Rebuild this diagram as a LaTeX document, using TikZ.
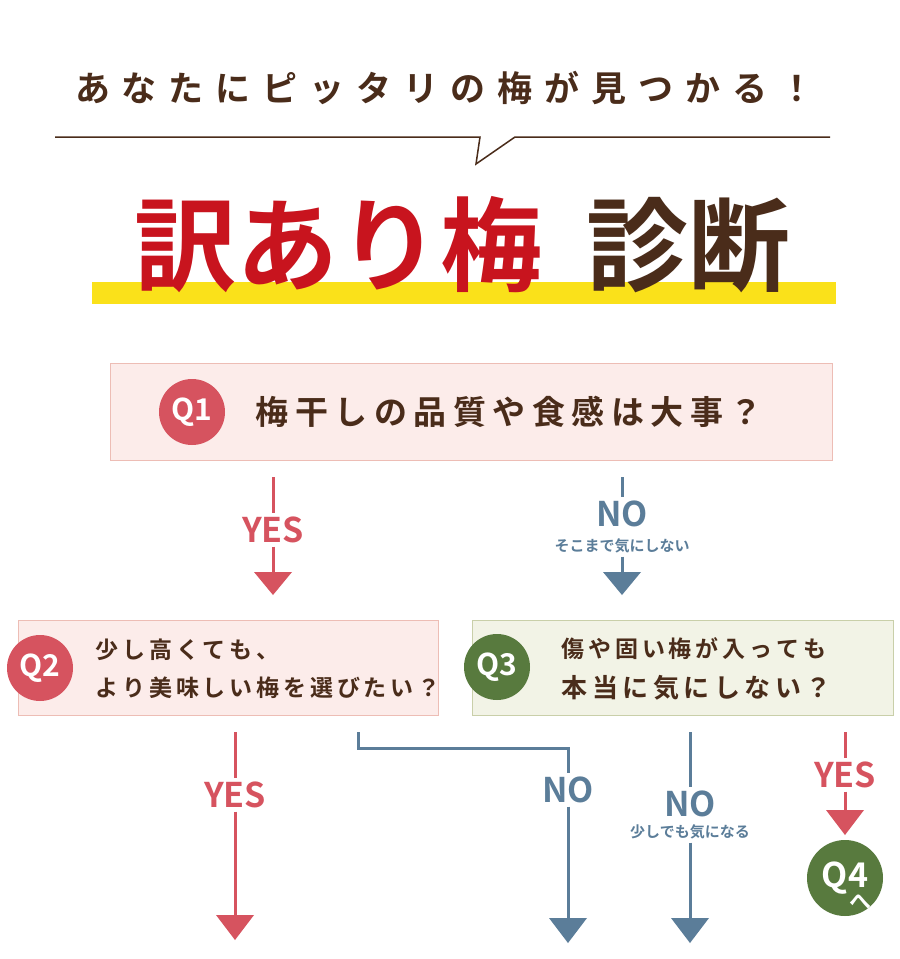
\documentclass[tikz,border=0pt]{standalone}
\usepackage{fontspec}
\setmainfont{Noto Sans CJK JP}
\newfontfamily\jpb{Noto Sans CJK JP Bold}
\newcommand\myls{\hspace{12pt}}
\newcommand\myqs{\hspace{6.5pt}}
\begin{document}
\definecolor{brn}{HTML}{4A2C1A}
\definecolor{bigred}{HTML}{C8141E}
\definecolor{pr}{HTML}{D6535F}
\definecolor{bl}{HTML}{5B7D99}
\definecolor{gr}{HTML}{587A3E}
\definecolor{pinkbg}{HTML}{FCECEA}
\definecolor{pinkbd}{HTML}{EDBDB5}
\definecolor{grbg}{HTML}{F2F3E6}
\definecolor{grbd}{HTML}{C9CFA9}
\definecolor{yel}{HTML}{FAE11A}
\begin{tikzpicture}[x=1pt,y=-1pt,
  qc/.style={circle,minimum size=66pt,inner sep=0pt,text=white,font=\jpb\fontsize{30}{30}\selectfont},
  qt/.style={anchor=west,text=brn,font=\jpb\fontsize{23}{23}\selectfont},
  lab/.style={font=\jpb\fontsize{34}{34}\selectfont},
  sub/.style={font=\jpb\fontsize{15}{15}\selectfont,text=bl},
  ln/.style={line width=3pt}]
\useasboundingbox (0,0) rectangle (900,959);
\fill[white] (0,0) rectangle (900,959);
% header
\node[text=brn,font=\jpb\fontsize{35}{35}\selectfont] (head) at (445,88) {あ\myls な\myls た\myls に\myls ピ\myls ッ\myls タ\myls リ\myls の\myls 梅\myls が\myls 見\myls つ\myls か\myls る\myls ！};
\coordinate (sl) at (55,137); \coordinate (sr) at (830,137);
\draw[brn,line width=1.5pt] (sl) -- (480,137) -- (476,164) -- (515,137) -- (sr);
\fill[yel] (92,282) rectangle (836,304);
\node[text=bigred,font=\jpb\fontsize{102}{102}\selectfont,anchor=base] (t1) at (338,283) {訳あり梅};
\node[text=brn,font=\jpb\fontsize{102}{102}\selectfont,anchor=base] (t2) at (688,283) {診断};
% Q1
\node[draw=pinkbd,fill=pinkbg,line width=1pt,minimum width=722pt,minimum height=97pt,inner sep=0pt] (q1box) at (471,411.5) {};
\node[qc,fill=pr] (q1) at (192,412) {Q1};
\node[qt,font=\jpb\fontsize{33}{33}\selectfont] (q1t) at (252,412) {梅\myqs 干\myqs し\myqs の\myqs 品\myqs 質\myqs や\myqs 食\myqs 感\myqs は\myqs 大\myqs 事\myqs ？};
% Q1 YES
\node[lab,text=pr] (y1) at (273,530) {YES};
\coordinate (y1a) at (273,477);
\draw[ln,pr] (y1a) -- (y1.north);
\coordinate (y1b) at (273,573);
\draw[ln,pr] (y1.south) -- (y1b);
\fill[pr] (254,572) -- (292,572) -- (273,595) -- cycle;
% Q1 NO
\node[lab,text=bl] (n1) at (622,514) {NO};
\node[sub] (n1s) at (622,546) {そこまで気にしない};
\coordinate (n1a) at (622,477);
\draw[ln,bl] (n1a) -- (n1.north);
\coordinate (n1b) at (622,573);
\draw[ln,bl] (n1s.south) -- (n1b);
\fill[bl] (603,572) -- (641,572) -- (622,595) -- cycle;
% Q2
\node[draw=pinkbd,fill=pinkbg,line width=1pt,minimum width=420pt,minimum height=95pt,inner sep=0pt] (q2box) at (228,667.5) {};
\node[qc,fill=pr] (q2) at (40,668) {Q2};
\node[qt] (q2a) at (92,650) {少\,し\,高\,く\,て\,も\,、};
\node[qt] (q2b) at (92,688) {よ\,り\,美\,味\,し\,い\,梅\,を\,選\,び\,た\,い\,？};
% Q3
\node[draw=grbd,fill=grbg,line width=1pt,minimum width=421pt,minimum height=95pt,inner sep=0pt] (q3box) at (682.5,667.5) {};
\node[qc,fill=gr] (q3) at (497,667) {Q3};
\node[qt] (q3a) at (558,649) {傷\,や\,固\,い\,梅\,が\,入\,っ\,て\,も};
\node[qt,font=\jpb\fontsize{26}{26}\selectfont] (q3b) at (558,688) {本\hspace{4.5pt}当\hspace{4.5pt}に\hspace{4.5pt}気\hspace{4.5pt}に\hspace{4.5pt}し\hspace{4.5pt}な\hspace{4.5pt}い\hspace{4.5pt}？};
% Q2 YES
\node[lab,text=pr] (y2) at (235,795) {YES};
\coordinate (y2a) at (235,732); \coordinate (y2b) at (235,917);
\draw[ln,pr] (y2a) -- (y2.north);
\draw[ln,pr] (y2.south) -- (y2b);
\fill[pr] (216,915) -- (254,915) -- (235,940) -- cycle;
% Q2 NO
\node[lab,text=bl] (n2) at (568,790) {NO};
\coordinate (n2a) at (358,732); \coordinate (n2b) at (568,920);
\draw[ln,bl] (n2a) -- (358,748) -- (568,748) -- (n2.north);
\draw[ln,bl] (n2.south) -- (n2b);
\fill[bl] (549,918) -- (587,918) -- (568,943) -- cycle;
% Q3 NO
\node[lab,text=bl] (n3) at (690,804) {NO};
\node[sub] (n3s) at (690,832) {少しでも気になる};
\coordinate (n3a) at (690,732); \coordinate (n3b) at (690,920);
\draw[ln,bl] (n3a) -- (n3.north);
\draw[ln,bl] (n3s.south) -- (n3b);
\fill[bl] (671,918) -- (709,918) -- (690,943) -- cycle;
% Q3 YES
\node[lab,text=pr] (y3) at (845,775) {YES};
\coordinate (y3a) at (845,732); \coordinate (y3b) at (845,812);
\draw[ln,pr] (y3a) -- (y3.north);
\draw[ln,pr] (y3.south) -- (y3b);
\fill[pr] (826,810) -- (864,810) -- (845,835) -- cycle;
\node[qc,fill=gr,minimum size=76pt,font=\jpb\fontsize{34}{34}\selectfont] (q4) at (845,878) {Q4};
\node[text=white,font=\jpb\fontsize{22}{22}\selectfont,inner sep=0pt] (he) at (860,902) {へ};
\end{tikzpicture}
\end{document}
